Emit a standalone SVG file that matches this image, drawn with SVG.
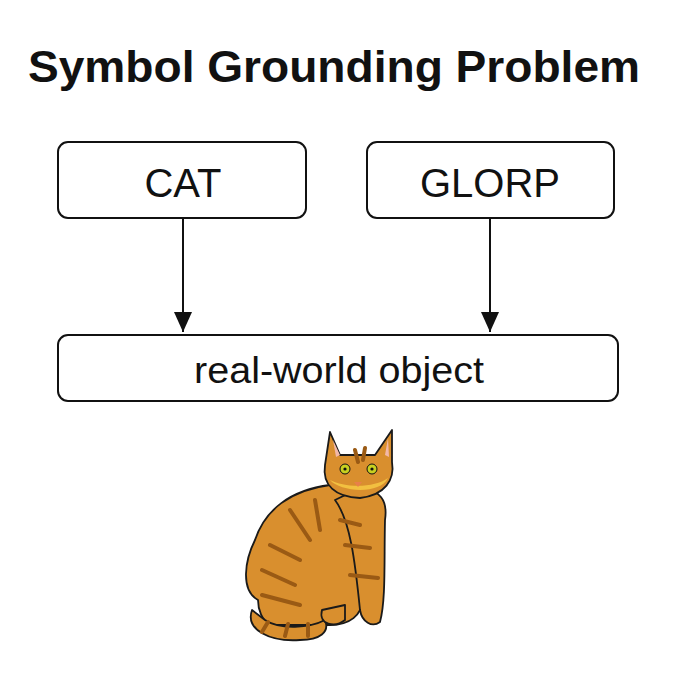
<svg xmlns="http://www.w3.org/2000/svg" width="682" height="682" viewBox="0 0 682 682">
<style>
.box{fill:#fff;stroke:#111;stroke-width:2}
.t{font-family:"Liberation Sans",Arial,sans-serif;fill:#111;text-anchor:middle}
.fur{fill:#D98F2E;stroke:#1a1a1a;stroke-width:1.8;stroke-linejoin:round}
.st{fill:none;stroke:#9A5A14;stroke-width:4;stroke-linecap:round}
.ln{stroke:#111;stroke-width:2;fill:none}
</style>
<defs>
<marker id="a" viewBox="0 0 20 18" refX="20" refY="9" markerWidth="20" markerHeight="18" markerUnits="userSpaceOnUse" orient="auto"><path d="M0,0L20,9L0,18z" fill="#111"/></marker></defs>
<rect width="682" height="682" fill="#fff"/>
<text class="t" x="334" y="82" font-size="44" font-weight="bold" textLength="612" lengthAdjust="spacingAndGlyphs">Symbol Grounding Problem</text>
<g id="cat-node"><rect class="box" x="58" y="142" width="248" height="76" rx="10"/><text class="t" x="183" y="197" font-size="40">CAT</text></g>
<g id="glorp-node"><rect class="box" x="367" y="142" width="247" height="76" rx="10"/><text class="t" x="490" y="197" font-size="40">GLORP</text></g>
<g id="object-node"><rect class="box" x="58" y="335" width="560" height="66" rx="10"/><text class="t" x="339" y="383" font-size="36" textLength="290" lengthAdjust="spacingAndGlyphs">real-world object</text></g>
<g id="connectors">
<line class="ln" x1="183" y1="218" x2="183" y2="332" marker-end="url(#a)"/>
<line class="ln" x1="490" y1="218" x2="490" y2="332" marker-end="url(#a)"/>
</g>
<g id="cat-picture">
<path class="fur" d="M258,600 C240,590 245,560 255,540 C265,510 290,490 330,485 C350,490 360,510 360,540 L362,600 C362,615 350,625 330,625 L270,625 C262,620 258,610 258,600Z"/>
<path class="fur" d="M252,610 C245,630 270,642 300,640 C320,640 330,632 325,620 C310,628 280,630 265,620Z"/>
<path class="fur" d="M335,500 C350,520 355,560 360,610 C362,622 372,628 380,622 C386,600 384,560 385,520 C388,500 380,490 360,488Z"/>
<path class="fur" d="M322,610 C318,625 335,628 345,620 L345,605Z"/>
<path class="fur" d="M330,432 L340,455 L375,455 L392,430 L392,462 C395,480 385,495 360,498 C335,497 322,485 325,465Z"/>
<path d="M333,440 L340,455 L336,457Z M388,438 L385,455 L389,457Z" fill="#F2B8A8"/>
<path d="M330,480 C340,492 380,495 388,478 C375,488 345,488 330,480Z" fill="#F2C040"/>
<circle cx="345" cy="469" r="5" fill="#C8D020" stroke="#111"/><circle cx="372" cy="469" r="5" fill="#C8D020" stroke="#111"/>
<circle cx="345" cy="469" r="1.6" fill="#111"/><circle cx="372" cy="469" r="1.6" fill="#111"/>
<path d="M354,482 L362,482 L358,487Z" fill="#E8804A"/>
<path class="st" d="M270,545 L300,560 M262,570 L295,585 M262,595 L300,605 M290,510 L310,540 M315,500 L320,530 M340,520 L360,525 M345,545 L370,548 M350,575 L378,578 M262,632 L268,622 M285,636 L288,624 M308,636 L308,624 M355,450 L358,462 M365,448 L363,460"/>
</g>
</svg>
